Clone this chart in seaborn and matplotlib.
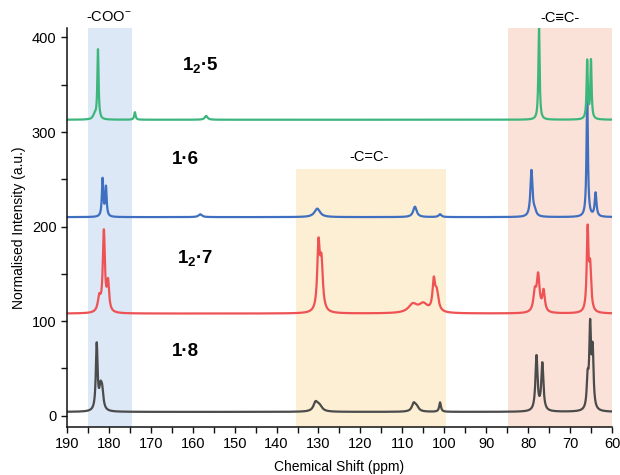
import numpy as np
import pandas as pd
import matplotlib
matplotlib.use("Agg")
import matplotlib.pyplot as plt
import seaborn as sns

# ---- data (peak lists per spectrum) ----
samples = ["1·8", "1₂·7", "1·6", "1₂·5"]
baselines = [4, 108, 210, 313]

# centres (ppm), heights above baseline (a.u.), widths (FWHM, ppm)
pk_18_pos = [182.9, 182.0, 181.6, 130.7, 129.8, 107.3, 106.6, 101.0, 78.0, 76.6, 65.8, 65.2, 64.6]
pk_18_h   = [70, 20, 18, 9, 6, 8, 5, 10, 58, 50, 30, 85, 60]
pk_18_w   = [0.5, 0.7, 0.7, 1.2, 1.5, 1.0, 1.2, 0.5, 0.6, 0.6, 0.5, 0.5, 0.5]

pk_17_pos = [182.3, 181.2, 180.2, 130.0, 129.3, 107.5, 105.0, 102.5, 101.8, 78.4, 77.6, 76.3, 65.8, 65.2]
pk_17_h   = [15, 85, 30, 68, 50, 9, 9, 30, 20, 20, 38, 22, 85, 45]
pk_17_w   = [0.8, 0.6, 0.6, 0.7, 0.8, 2.5, 2.5, 0.7, 1.0, 0.8, 0.8, 0.7, 0.5, 0.6]

pk_16_pos = [181.5, 180.7, 158.2, 130.3, 107.0, 101.0, 79.2, 78.4, 65.9, 63.9]
pk_16_h   = [40, 31, 3, 9, 11, 3, 49, 5, 128, 25]
pk_16_w   = [0.4, 0.4, 1.0, 1.6, 1.0, 0.8, 0.6, 0.8, 0.4, 0.5]

pk_15_pos = [183.4, 182.6, 173.8, 156.8, 77.4, 65.9, 65.0]
pk_15_h   = [5, 74, 8, 4, 100, 62, 62]
pk_15_w   = [0.8, 0.35, 0.4, 0.8, 0.35, 0.35, 0.35]

peak_lists = [(pk_18_pos, pk_18_h, pk_18_w), (pk_17_pos, pk_17_h, pk_17_w),
              (pk_16_pos, pk_16_h, pk_16_w), (pk_15_pos, pk_15_h, pk_15_w)]
colors = ["#4b4b4b", "#ee5254", "#3f6fc0", "#3db67e"]

ppm = np.linspace(190, 60, 4000)
frames = []
for name, base, (pos, h, w) in zip(samples, baselines, peak_lists):
    y = np.full_like(ppm, float(base))
    for c, a, fw in zip(pos, h, w):
        g = fw / 2.0
        y += a * g**2 / ((ppm - c) ** 2 + g**2)
    frames.append(pd.DataFrame({"ppm": ppm, "intensity": y, "sample": name}))
df = pd.concat(frames, ignore_index=True)

# ---- plot ----
sns.set_theme(style="ticks")
plt.rcParams["font.family"] = ["Liberation Sans", "DejaVu Sans"]
plt.rcParams["mathtext.fontset"] = "custom"
plt.rcParams["mathtext.rm"] = "Liberation Sans"
plt.rcParams["mathtext.bf"] = "Liberation Sans:bold"
plt.rcParams["text.color"] = "black"
plt.rcParams["axes.labelcolor"] = "black"

fig = plt.figure(figsize=(6.2, 4.75), dpi=100)
ax = fig.add_axes([0.108, 0.101, 0.879, 0.840])

ax.axvspan(185, 174.5, color="#dce8f6", zorder=0, lw=0)
ax.axvspan(135.3, 99.5, ymax=(261 + 12) / (410 + 12), color="#fdefd3", zorder=0, lw=0)
ax.axvspan(84.7, 60, color="#fbe2d8", zorder=0, lw=0)

sns.lineplot(data=df, x="ppm", y="intensity", hue="sample", palette=colors,
             estimator=None, sort=False, lw=1.6, legend=False, ax=ax, zorder=2)

ax.set_xlim(190, 60)
ax.set_ylim(-12, 410)
ax.set_xticks(np.arange(190, 59, -10))
ax.set_xticks(np.arange(185, 60, -10), minor=True)
ax.set_yticks([0, 100, 200, 300, 400])
ax.set_yticks([50, 150, 250, 350], minor=True)
ax.tick_params(axis="both", which="both", direction="out", length=4, width=1, labelsize=10.5,
               colors="#111111", labelcolor="black")
for s in ["top", "right"]:
    ax.spines[s].set_visible(False)
for s in ["left", "bottom"]:
    ax.spines[s].set_linewidth(1.1)
    ax.spines[s].set_color("#111111")
ax.set_xlabel("Chemical Shift (ppm)", fontsize=10, labelpad=6)
ax.set_ylabel("Normalised Intensity (a.u.)", fontsize=10, labelpad=4)

ax.text(180, 421, "-COO$^{-}$", ha="center", va="center", fontsize=10.5, clip_on=False)
ax.text(72.5, 421, "-C≡C-", ha="center", va="center", fontsize=10.5, clip_on=False)
ax.text(118, 274, "-C=C-", ha="center", va="center", fontsize=10.5)

lab_x = [161.8, 159.4, 161.8, 158.2]
lab_y = [68, 167, 271, 371]
lab_txt = ["1·8", r"$\mathbf{1_2}$·7", "1·6", r"$\mathbf{1_2}$·5"]
for x, y, t in zip(lab_x, lab_y, lab_txt):
    ax.text(x, y, t, ha="center", va="center", fontsize=13.5, fontweight="bold")

fig.savefig("out.png", dpi=100)
